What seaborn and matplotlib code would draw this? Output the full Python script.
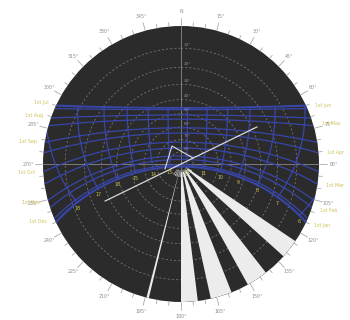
import numpy as np
import pandas as pd
import matplotlib
matplotlib.use("Agg")
import matplotlib.pyplot as plt
import seaborn as sns

# ---- site and sun-path inputs ----
latitude = -21.0          # degrees, southern hemisphere
clock_ahead_min = 20.0    # local clock time ahead of solar time, minutes

month_labels = ["1st Jan", "1st Feb", "1st Mar", "1st Apr", "1st May", "1st Jun",
                "1st Jul", "1st Aug", "1st Sep", "1st Oct", "1st Nov", "1st Dec"]
declinations = [-23.0, -17.2, -7.8, 4.3, 15.0, 22.0,
                23.1, 18.1, 8.4, -3.0, -14.3, -21.7]
solstice_decl = [-23.44, 23.44]
hours = [6, 7, 8, 9, 10, 11, 12, 13, 14, 15, 16, 17, 18]

azimuth_ticks = list(range(0, 360, 15))
azimuth_labels = ["N"] + [f"{a}°" for a in range(15, 360, 15)]
ring_altitudes = [0, 10, 20, 30, 40, 50, 60, 70, 80]
ring_labels = ["10°", "20°", "30°", "40°", "50°", "60°", "70°", "80°"]

# open-sky segments of the shading mask (azimuth from / to, degrees)
mask_from = [193.5, 173.0, 158.5, 142.0, 124.0]
mask_to = [194.5, 180.0, 167.5, 151.0, 132.0]
# fine open-sky slivers close to the zenith
sliver_az = [214, 206, 199, 190, 184, 170, 163, 155, 147, 139, 131, 123]

# orientation line through the zenith and the sun vector (azimuth, altitude)
axis_az = [244.0, 64.0]
axis_alt = [27.0, 27.0]
vector_az = [252.6, 333.4, 63.4]
vector_alt = [76.1, 73.4, 78.9]

BG = "#2b2b2b"
BLUE = "#3846aa"
GRID = "#747474"
YELLOW = "#cdc257"
LABEL = "#8c8c8c"
SKY = "#ececec"


def alt_to_r(alt):
    """Stereographic radius: horizon at 1, zenith at 0."""
    zen = np.radians(90.0 - np.asarray(alt, dtype=float))
    return np.tan(zen / 2.0)


def hour_angle(clock_hour):
    """Solar hour angle (deg) for a local clock hour."""
    return 15.0 * (clock_hour - 12.0 - clock_ahead_min / 60.0)


def sun_position(decl, ha):
    """Azimuth (deg, clockwise from north) and altitude (deg)."""
    phi = np.radians(latitude)
    d = np.radians(decl)
    h = np.radians(ha)
    east = -np.cos(d) * np.sin(h)
    north = np.sin(d) * np.cos(phi) - np.cos(d) * np.cos(h) * np.sin(phi)
    up = np.sin(d) * np.sin(phi) + np.cos(d) * np.cos(h) * np.cos(phi)
    az = np.degrees(np.arctan2(east, north)) % 360.0
    alt = np.degrees(np.arcsin(np.clip(up, -1, 1)))
    return az, alt


# ---- date lines ----
rows = []
for lab, d in zip(month_labels + ["sol-", "sol+"], declinations + solstice_decl):
    h0 = np.degrees(np.arccos(np.clip(-np.tan(np.radians(latitude)) * np.tan(np.radians(d)), -1, 1)))
    ha = np.linspace(-h0, h0, 241)
    az, alt = sun_position(d, ha)
    alt = np.maximum(alt, 0.0)
    for a, b in zip(az, alt):
        rows.append({"line": "d " + lab, "theta": np.radians(a), "r": float(alt_to_r(b))})

# ---- hour lines ----
dec_span = np.linspace(solstice_decl[0], solstice_decl[1], 121)
for hr in hours:
    az, alt = sun_position(dec_span, hour_angle(hr))
    keep = alt >= 0
    for a, b in zip(az[keep], alt[keep]):
        rows.append({"line": f"h {hr}", "theta": np.radians(a), "r": float(alt_to_r(b))})

paths = pd.DataFrame(rows)

sns.set_theme(style="white")
plt.rcParams["font.family"] = ["DejaVu Sans"]

fig = plt.figure(figsize=(3.5, 3.2), dpi=100)
fig.patch.set_facecolor("white")
ax = fig.add_axes([43 / 350, 18 / 320, 276 / 350, 276 / 320], projection="polar")
ax.set_theta_zero_location("N")
ax.set_theta_direction(-1)
ax.set_facecolor(BG)
ax.set_ylim(0, 1)
ax.set_xticks([])
ax.set_yticks([])
ax.grid(False)
ax.spines["polar"].set_visible(False)

# altitude rings
full = np.radians(np.linspace(0, 360, 361))
for alt in ring_altitudes[1:]:
    ax.plot(full, np.full_like(full, alt_to_r(alt)), color=GRID, lw=0.6,
            ls=(0, (2.5, 2.5)), zorder=1)
# main compass axes
for a in (0, 90):
    ax.plot([np.radians(a), np.radians(a + 180)], [1, 1], color="#8a8a8a", lw=0.6, zorder=1)

# sun path grid
sns.lineplot(data=paths, x="theta", y="r", units="line", estimator=None, sort=False,
             color=BLUE, lw=0.9, legend=False, ax=ax, zorder=2)
ax.set_xlabel("")
ax.set_ylabel("")

# open-sky wedges of the shading mask
for a0, a1 in zip(mask_from, mask_to):
    ax.bar(np.radians((a0 + a1) / 2), 1.0 - 0.06, width=np.radians(a1 - a0), bottom=0.06,
           color=SKY, edgecolor="none", zorder=3)
for a in sliver_az:
    ax.bar(np.radians(a), 0.05, width=np.radians(3.0), bottom=0.045,
           color=SKY, edgecolor="none", zorder=3)

# orientation line and sun vector
ax.plot(np.radians(axis_az), alt_to_r(axis_alt), color="#d8d8d8", lw=0.9, zorder=4)
ax.plot(np.radians(vector_az), alt_to_r(vector_alt), color="#d8d8d8", lw=0.8, zorder=4)

# hour labels along the December solstice line
for hr in hours:
    az, alt = sun_position(solstice_decl[0], hour_angle(hr))
    ax.annotate(str(hr), (np.radians(az), alt_to_r(alt)), xytext=(0, -4),
                textcoords="offset points", ha="center", va="center",
                color=YELLOW, fontsize=3.4, zorder=5)

# ring labels along the north axis
for alt, lab in zip(ring_altitudes[1:], ring_labels):
    ax.annotate(lab, (0, alt_to_r(alt)), xytext=(2, 1), textcoords="offset points",
                ha="left", va="bottom", color=LABEL, fontsize=3.0, zorder=5)

# outer ticks and azimuth labels
for a in range(0, 360, 5):
    length = 0.06 if a % 15 == 0 else 0.028
    ax.plot([np.radians(a)] * 2, [1.0, 1.0 + length], color="#9a9a9a", lw=0.5,
            clip_on=False, zorder=5)
for a, lab in zip(azimuth_ticks, azimuth_labels):
    ax.text(np.radians(a), 1.105, lab, ha="center", va="center", color=LABEL,
            fontsize=3.4, clip_on=False)

# date labels where each date line meets the horizon
for i, (lab, d) in enumerate(zip(month_labels, declinations)):
    az0 = np.degrees(np.arccos(np.sin(np.radians(d)) / np.cos(np.radians(latitude))))
    if i < 6:
        ax.text(np.radians(az0), 1.06, lab, ha="left", va="center", color=YELLOW,
                fontsize=3.4, clip_on=False)
    else:
        ax.text(np.radians(360 - az0), 1.06, lab, ha="right", va="center", color=YELLOW,
                fontsize=3.4, clip_on=False)

fig.savefig("out.png", dpi=100, facecolor="white")
